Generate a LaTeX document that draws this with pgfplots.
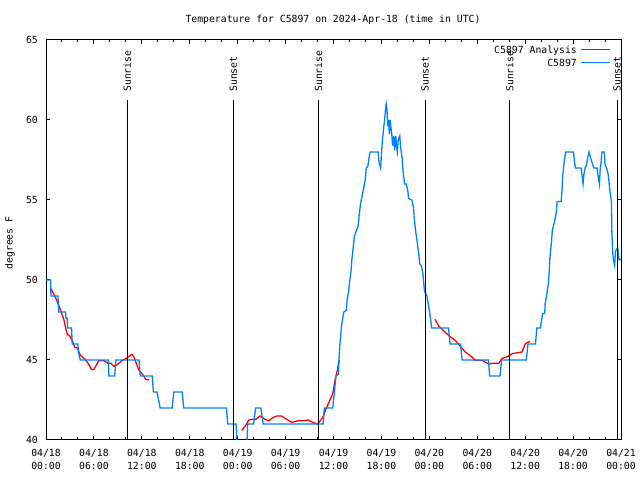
\documentclass[border=0pt]{standalone}
\usepackage{fontspec}
\setmainfont{DejaVu Sans Mono}
\usepackage{pgfplots}
\pgfplotsset{compat=1.18}
\definecolor{obsblue}{RGB}{0,128,255}
\definecolor{anared}{RGB}{255,0,0}

\begin{document}
\fontsize{9.8bp}{13bp}\selectfont
\begin{tikzpicture}
\useasboundingbox (0,0) rectangle (640bp,480bp);
\begin{axis}[
    at={(46bp,40bp)}, anchor=south west,
    scale only axis, width=575bp, height=400bp,
    xmin=0, xmax=72, ymin=40, ymax=65,
    xtick={0,6,...,72},
    xticklabels={{04/18\\00:00},{04/18\\06:00},{04/18\\12:00},{04/18\\18:00},
                 {04/19\\00:00},{04/19\\06:00},{04/19\\12:00},{04/19\\18:00},
                 {04/20\\00:00},{04/20\\06:00},{04/20\\12:00},{04/20\\18:00},
                 {04/21\\00:00}},
    minor x tick num=2,
    ytick={40,45,...,65},
    /pgf/number format/assume math mode=true,
    axis line style={line width=1bp, black},
    every tick/.style={black, line width=1bp},
    major tick length=4bp, minor tick length=2.5bp,
    xticklabel style={align=center, inner sep=0pt, yshift=-9bp},
    yticklabel style={inner sep=0pt, xshift=-8bp},
]
% analysis (red), three pieces
\addplot[anared, line width=1.3bp] coordinates {
(0.58,49.5)(1.0,49.1)(1.42,48.65)(1.83,48.1)(2.25,47.5)(2.46,47.0)(2.67,46.6)
(2.96,46.5)(3.3,46.2)(3.6,45.8)(3.92,45.75)(4.3,45.3)(4.97,45.0)(5.4,44.7)
(5.7,44.4)(6.0,44.4)(6.6,44.95)(7.3,44.95)(7.7,44.8)(8.1,44.8)(8.5,44.6)
(8.9,44.7)(9.5,44.95)(10.05,45.1)(10.75,45.35)(11.0,45.2)(11.3,44.8)
(11.6,44.4)(12.1,44.1)(12.5,43.8)(12.9,43.75)
};
\addplot[anared, line width=1.3bp] coordinates {
(24.5,40.6)(25.0,40.9)(25.4,41.25)(25.9,41.3)(26.3,41.3)(26.8,41.5)(27.4,41.3)
(27.9,41.2)(28.4,41.4)(28.9,41.5)(29.5,41.5)(30.1,41.3)(30.8,41.1)(31.5,41.2)
(32.2,41.2)(32.8,41.25)(33.4,41.1)(34.0,41.0)(34.6,41.35)(35.2,42.1)(35.9,42.9)
(36.2,43.75)(36.5,44.4)(36.7,45.0)
};
\addplot[anared, line width=1.3bp] coordinates {
(48.7,47.55)(49.2,47.1)(49.85,46.8)(50.5,46.5)(51.3,46.2)(51.9,45.85)(52.5,45.5)
(53.3,45.2)(53.7,45.0)(54.7,44.96)(55.4,44.75)(56.1,44.8)(56.7,44.8)(57.1,45.1)
(57.75,45.2)(58.4,45.4)(59.6,45.5)(60.0,46.0)(60.3,46.1)(60.6,46.15)
};
% observations (blue)
\addplot[obsblue, line width=1.3bp] coordinates {
(0,50)(0.58,50)(0.62,49)(1.5,49)(1.58,48)(2.45,48)(2.5,47.6)(2.65,47.6)(2.7,47)
(3.2,47)(3.28,46)(4.0,46)(4.05,45.5)(4.3,45)(7.8,45)(7.88,44)(8.6,44)(8.75,45)
(11.65,45)(11.8,44)(13.3,44)(13.45,43)(13.9,43)(14.3,42)(15.8,42)(16.0,43)
(17.05,43)(17.25,42)(22.6,42)(22.75,41)(23.8,41)(24.0,39)(25.1,39)(25.25,41)
(26.0,41)(26.25,42)(26.9,42)(27.2,41)(34.7,41)(34.85,42)(35.9,42)
(36.1,42.9)(36.3,44.0)(36.6,44.1)(36.7,45.1)(36.8,46.0)(36.9,46.5)(37.0,47.1)
(37.2,47.75)(37.3,48.0)(37.6,48.1)(37.7,48.75)(37.9,49.3)(38.0,49.8)(38.2,50.6)
(38.3,51.25)(38.4,51.7)(38.6,52.7)(38.8,53.0)(39.1,53.4)(39.2,54.0)(39.4,54.8)
(39.6,55.3)(39.8,55.8)(40.0,56.35)(40.1,57.0)(40.3,57.1)(40.5,57.8)(40.6,58.0)
(41.6,58.0)(41.7,57.35)(41.9,57.0)(42.0,57.8)(42.1,58.6)(42.3,59.6)(42.4,60.0)
(42.5,60.6)(42.6,61.0)(42.7,60.6)(42.8,59.6)(42.9,60.0)(43.0,59.1)(43.1,60.0)
(43.2,59.5)(43.3,59.1)(43.4,58.4)(43.55,59.0)(43.65,58.1)(43.8,59.0)(43.9,58.3)
(44.0,58.0)(44.1,58.75)(44.3,59.0)(44.4,58.3)(44.6,57.6)(44.7,56.85)(44.9,56.0)
(45.1,56.0)(45.3,55.6)(45.4,55.1)(45.8,55.0)(46.0,54.6)(46.1,53.9)(46.3,53.0)
(46.5,52.3)(46.7,51.5)(46.8,51.0)(47.0,50.9)(47.2,50.4)(47.3,49.8)(47.4,49.3)
(47.7,49.0)(47.9,48.4)(48.1,47.75)(48.3,47.0)(50.4,47)(50.6,46)(51.9,46)
(52.1,45)(55.4,45)(55.55,44)(56.85,44)(57.05,45)(60.15,45)(60.35,46)(61.3,46)
(61.45,47)(61.9,47)(62.05,47.5)(62.2,47.9)(62.45,47.9)(62.5,48.5)(62.7,49.1)
(62.9,49.75)(63.0,50.4)(63.1,51.4)(63.3,52.4)(63.4,53.1)(63.7,53.7)(63.9,54.25)
(64.0,54.9)(64.5,54.9)(64.6,55.5)(64.7,56.5)(64.85,57.2)(65.05,58.0)(66.05,58.0)
(66.2,57.3)(66.3,57.0)(67.0,57.0)(67.1,56.6)(67.25,56.0)(67.35,56.6)(67.5,57.0)
(67.7,57.2)(67.8,57.6)(68.0,58.0)(68.2,57.6)(68.4,57.3)(68.6,57.0)(69.0,57.0)
(69.1,56.6)(69.3,56.0)(69.4,57.0)(69.5,57.3)(69.6,58.0)(69.9,58.0)(70.0,57.2)
(70.2,57.0)(70.4,56.6)(70.6,55.6)(70.8,54.9)(70.85,53.1)(70.95,51.75)(71.05,51.25)
(71.2,50.9)(71.3,51.75)(71.4,51.9)(71.6,52.0)(71.75,51.25)(72,51.3)
};
% sunrise / sunset markers
\foreach \t/\lab in {10.17/Sunrise,23.45/Sunset,34.13/Sunrise,47.47/Sunset,58.08/Sunrise,71.5/Sunset}{
  \edef\temp{\noexpand\draw[black, line width=1bp] (axis cs:\t,40) -- (axis cs:\t,61.25);
    \noexpand\node[rotate=90, anchor=west, inner sep=0pt] at (axis cs:\t,61.75) {\lab};}
  \temp
}
\end{axis}
% key, top right as gnuplot puts it
\node[anchor=base east, inner sep=0pt] at (577bp,426.7bp) {C5897 Analysis};
\draw[anared, line width=1.3bp] (581bp,430.7bp) -- (610bp,430.7bp);
\node[anchor=base east, inner sep=0pt] at (577bp,413.7bp) {C5897};
\draw[obsblue, line width=1.3bp] (581bp,417.7bp) -- (610bp,417.7bp);
\node at (333bp,460bp) {Temperature for C5897 on 2024-Apr-18 (time in UTC)};
\node[rotate=90] at (10bp,237bp) {degrees F};
\end{tikzpicture}
\end{document}
